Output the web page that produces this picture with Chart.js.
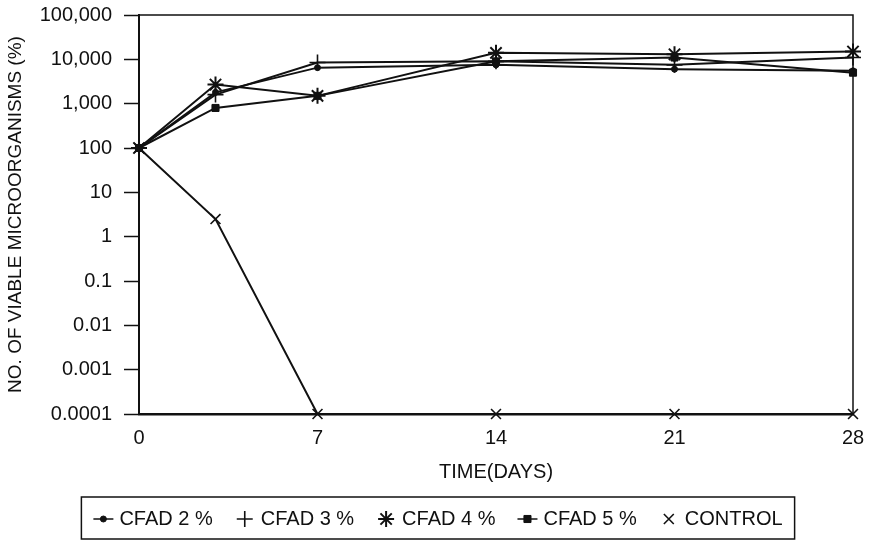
<!DOCTYPE html>
<html>
<head>
<meta charset="utf-8">
<script src="https://cdn.jsdelivr.net/npm/chart.js@4/dist/chart.umd.min.js"></script>
<style>
  html, body { margin: 0; padding: 0; background: #fff; }
  #wrap { width: 870px; height: 554px; }
</style>
</head>
<body>
<div id="wrap"><canvas id="viableChart" width="870" height="554"></canvas></div>
<script>
// values (% of viable microorganisms)
const days = [0, 3, 7, 14, 21, 28];
const cfad2 = [100, 1800, 6500, 7500, 6000, 5500];
const cfad3 = [100, 1600, 8500, 9000, 7500, 11000];
const cfad4 = [100, 2700, 1500, 14000, 13000, 15000];
const cfad5 = [100, 800, 1500, 9000, 11000, 5000];
const control = [100, 2.5, 0.0001, 0.0001, 0.0001, 0.0001];

const seriesNames = ['CFAD 2 %', 'CFAD 3 %', 'CFAD 4 %', 'CFAD 5 %', 'CONTROL'];
const xTicks = [0, 7, 14, 21, 28];
const yTicks = [0.0001, 0.001, 0.01, 0.1, 1, 10, 100, 1000, 10000, 100000];
const yTickLabels = ['0.0001', '0.001', '0.01', '0.1', '1', '10', '100', '1,000', '10,000', '100,000'];

const ink = '#111';
const font = 'Liberation Sans, Arial, sans-serif';

const toPoints = vals => vals.map((v, i) => ({ x: days[i], y: v }));

const styles = [
  { pointStyle: 'circle', pointRadius: 3, pointBorderWidth: 1 },
  { pointStyle: 'cross', pointRadius: 8, pointBorderWidth: 1.6 },
  { pointStyle: 'star', pointRadius: 8, pointBorderWidth: 2 },
  { pointStyle: 'rect', pointRadius: 5, pointBorderWidth: 1 },
  { pointStyle: 'crossRot', pointRadius: 7, pointBorderWidth: 1.6 }
];

const datasets = [cfad2, cfad3, cfad4, cfad5, control].map((vals, i) => Object.assign({
  label: seriesNames[i],
  data: toPoints(vals),
  borderColor: ink,
  backgroundColor: ink,
  pointBackgroundColor: ink,
  pointBorderColor: ink,
  borderWidth: 2,
  tension: 0,
  clip: false
}, styles[i]));

// box around the plot area
const frame = {
  id: 'frame',
  afterDraw(chart) {
    const { ctx, chartArea: a } = chart;
    ctx.save();
    ctx.strokeStyle = ink;
    ctx.lineWidth = 1.5;
    ctx.beginPath();
    ctx.moveTo(a.left, a.top);
    ctx.lineTo(a.right, a.top);
    ctx.lineTo(a.right, a.bottom);
    ctx.stroke();
    ctx.restore();
  }
};

// boxed legend under the axis title, centred on the figure
const boxLegend = {
  id: 'boxLegend',
  afterDraw(chart) {
    const ctx = chart.ctx;
    const top = 497, bottom = 539, centre = 438;
    const midY = (top + bottom) / 2 + 1;
    const markW = 26, gap = 22, pad = 12;
    ctx.save();
    ctx.font = '20px ' + font;
    ctx.textBaseline = 'middle';
    const widths = chart.data.datasets.map(ds => ctx.measureText(ds.label).width);
    const total = widths.reduce((s, w) => s + markW + w, 0) + gap * (widths.length - 1);
    const left = centre - total / 2 - pad;
    const right = centre + total / 2 + pad;
    ctx.strokeStyle = ink;
    ctx.lineWidth = 1.5;
    ctx.strokeRect(left, top, right - left, bottom - top);
    ctx.fillStyle = ink;
    let x = left + pad;
    chart.data.datasets.forEach((ds, i) => {
      const cx = x + 10;
      if (ds.pointStyle === 'circle' || ds.pointStyle === 'rect') {
        ctx.lineWidth = 1.5;
        ctx.beginPath();
        ctx.moveTo(x, midY);
        ctx.lineTo(x + 20, midY);
        ctx.stroke();
      }
      if (Chart.helpers && Chart.helpers.drawPoint) {
        ctx.lineWidth = ds.pointBorderWidth;
        Chart.helpers.drawPoint(ctx, {
          pointStyle: ds.pointStyle,
          radius: ds.pointRadius,
          rotation: 0,
          borderWidth: ds.pointBorderWidth
        }, cx, midY);
      }
      ctx.fillStyle = ink;
      ctx.fillText(ds.label, x + markW, midY);
      x += markW + widths[i] + gap;
    });
    ctx.restore();
  }
};

new Chart(document.getElementById('viableChart').getContext('2d'), {
  type: 'line',
  data: { datasets: datasets },
  options: {
    responsive: false,
    animation: false,
    layout: { padding: { left: 0, right: 17, top: 15, bottom: 70 } },
    plugins: {
      legend: { display: false },
      tooltip: { enabled: false }
    },
    scales: {
      x: {
        type: 'linear',
        min: 0,
        max: 28,
        afterBuildTicks: scale => { scale.ticks = xTicks.map(v => ({ value: v })); },
        afterFit: scale => {
          scale.height = 70;
          scale.paddingLeft = 0;
          scale.paddingRight = 0;
        },
        grid: { display: false, drawTicks: false },
        border: { display: true, color: ink, width: 2.5 },
        ticks: { color: ink, padding: 12, maxRotation: 0, font: { family: font, size: 20 } },
        title: {
          display: true,
          text: 'TIME(DAYS)',
          color: ink,
          padding: { top: 0, bottom: 0 },
          font: { family: font, size: 20 }
        }
      },
      y: {
        type: 'logarithmic',
        min: 0.0001,
        max: 100000,
        afterBuildTicks: scale => { scale.ticks = yTicks.map(v => ({ value: v })); },
        afterFit: scale => {
          scale.width = 139;
          scale.paddingTop = 0;
          scale.paddingBottom = 0;
        },
        grid: { drawOnChartArea: false, drawTicks: true, tickLength: 15, color: ink, tickColor: ink, tickWidth: 1.5 },
        border: { display: true, color: ink, width: 2 },
        ticks: {
          color: ink,
          padding: 12,
          font: { family: font, size: 20 },
          callback: function (value) {
            const i = yTicks.findIndex(t => Math.abs(Math.log10(t) - Math.log10(value)) < 1e-6);
            return i >= 0 ? yTickLabels[i] : '';
          }
        },
        title: {
          display: true,
          text: 'NO. OF VIABLE MICROORGANISMS (%)',
          color: ink,
          padding: { top: 4, bottom: 0 },
          font: { family: font, size: 19 }
        }
      }
    }
  },
  plugins: [frame, boxLegend]
});
</script>
</body>
</html>
